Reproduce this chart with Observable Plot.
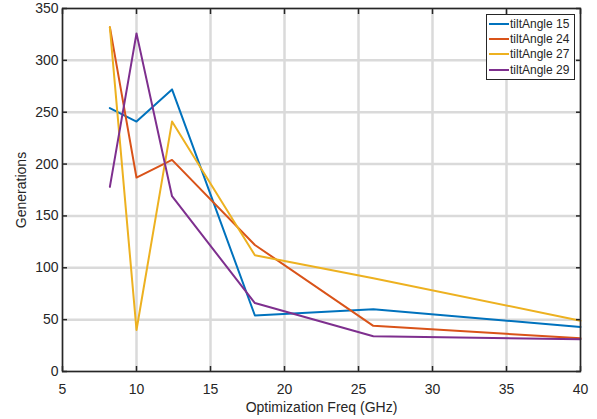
<!DOCTYPE html>
<html>
<head>
<meta charset="utf-8">
<script src="https://cdn.jsdelivr.net/npm/d3@7"></script>
<script src="https://cdn.jsdelivr.net/npm/@observablehq/plot@0.6"></script>
<style>
  html, body { margin: 0; padding: 0; background: #fff; }
  #wrap { position: relative; width: 597px; height: 419px; font-family: "Liberation Sans", Arial, sans-serif; }
  #legend { position: absolute; left: 486px; top: 14px; width: 87px; border: 1.3px solid #262626; background: #fff; padding: 1px 0 2px 0; font-size: 12px; color: #262626; }
  .row { display: flex; align-items: center; height: 15.3px; }
  .sw { width: 20px; height: 0; border-top: 2px solid; margin-left: 2px; margin-right: 1px; }
</style>
</head>
<body>
<div id="wrap"><div id="legend"></div></div>
<script>
const freqs = [8.2, 10, 12.4, 18, 26, 40];
const seriesNames = ["tiltAngle 15", "tiltAngle 24", "tiltAngle 27", "tiltAngle 29"];
const tilt15 = [254, 241, 272, 54, 60, 43];
const tilt24 = [332, 187, 204, 122, 44, 32];
const tilt27 = [332, 40, 241, 112, 90, 49];
const tilt29 = [178, 326, 169, 66, 34, 31];
const colors = ["#0072BD", "#D95319", "#EDB120", "#7E2F8E"];
const xTicks = [5, 10, 15, 20, 25, 30, 35, 40];
const yTicks = [0, 50, 100, 150, 200, 250, 300, 350];

const allSeries = [tilt15, tilt24, tilt27, tilt29];
const data = [];
allSeries.forEach((vals, i) => vals.forEach((v, j) => data.push({series: seriesNames[i], x: freqs[j], y: v})));

const axisStyle = {fontSize: 14, fill: "#262626"};
const chart = Plot.plot({
  width: 597,
  height: 419,
  marginLeft: 62,
  marginRight: 17,
  marginTop: 8,
  marginBottom: 48,
  style: {fontFamily: "Liberation Sans, Arial, sans-serif", fontSize: "14px", color: "#262626", background: "#fff"},
  x: {domain: [5, 40]},
  y: {domain: [0, 350]},
  color: {domain: seriesNames, range: colors},
  marks: [
    Plot.gridX(xTicks, {stroke: "#dadada", strokeOpacity: 1, strokeWidth: 2.5}),
    Plot.gridY(yTicks, {stroke: "#dadada", strokeOpacity: 1, strokeWidth: 2.5}),
    Plot.line(data, {x: "x", y: "y", z: "series", stroke: "series", strokeWidth: 2}),
    Plot.frame({stroke: "#262626", strokeWidth: 1.5}),
    Plot.axisX(xTicks, {anchor: "bottom", tickSize: -5, tickPadding: 18, label: "Optimization Freq (GHz)", labelAnchor: "center", labelArrow: "none", labelOffset: 40, stroke: "#262626", strokeWidth: 1.5, ...axisStyle}),
    Plot.axisX(xTicks, {anchor: "top", tickSize: -5, tickFormat: () => "", label: null, stroke: "#262626", strokeWidth: 1.5}),
    Plot.axisY(yTicks, {anchor: "left", tickSize: -5, tickPadding: 9, label: "Generations", labelAnchor: "center", labelArrow: "none", labelOffset: 46, stroke: "#262626", strokeWidth: 1.5, ...axisStyle}),
    Plot.axisY(yTicks, {anchor: "right", tickSize: -5, tickFormat: () => "", label: null, stroke: "#262626", strokeWidth: 1.5})
  ]
});
const wrap = document.getElementById("wrap");
wrap.insertBefore(chart, wrap.firstChild);

const legend = document.getElementById("legend");
seriesNames.forEach((name, i) => {
  const row = document.createElement("div");
  row.className = "row";
  const sw = document.createElement("div");
  sw.className = "sw";
  sw.style.borderTopColor = colors[i];
  const t = document.createElement("span");
  t.textContent = name;
  row.appendChild(sw);
  row.appendChild(t);
  legend.appendChild(row);
});
</script>
</body>
</html>
